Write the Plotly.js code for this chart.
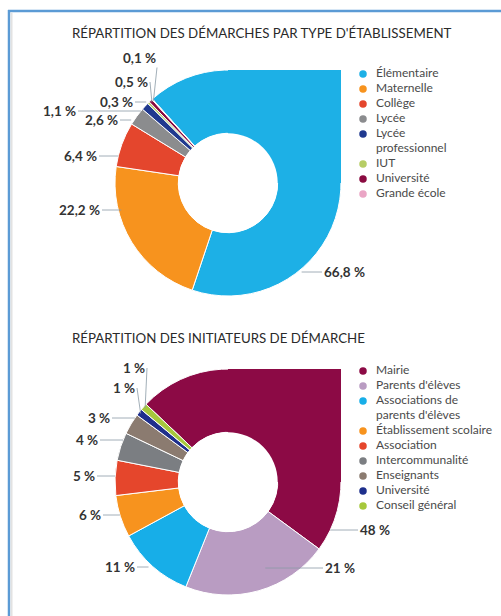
<!DOCTYPE html>
<html><head><meta charset="utf-8">
<script src="https://cdn.plot.ly/plotly-3.0.1.min.js"></script>
<style>html,body{margin:0;padding:0;background:#fff}#chart{width:501px;height:616px}</style>
</head><body><div id="chart"></div>
<script>
// ---------- data ----------
const title1 = "RÉPARTITION DES DÉMARCHES PAR TYPE D'ÉTABLISSEMENT";
const labels1 = ["Élémentaire","Maternelle","Collège","Lycée","Lycée<br>professionnel","IUT","Université","Grande école"];
const values1 = [66.8, 22.2, 6.4, 2.6, 1.1, 0.3, 0.5, 0.1];
const colors1 = ["#1db0e6","#f7931e","#e4462d","#8b8c8e","#20398f","#b6cd65","#8a0b40","#eaa5c5"];

const title2 = "RÉPARTITION DES INITIATEURS DE DÉMARCHE";
const labels2 = ["Mairie","Parents d'élèves","Associations de<br>parents d'élèves","Établissement scolaire","Association","Intercommunalité","Enseignants","Université","Conseil général"];
const values2 = [48, 21, 11, 6, 5, 4, 3, 1, 1];
const colors2 = ["#8c0a45","#b99cc2","#17aee8","#f7931e","#e5462c","#7b7e82","#8b7b70","#1e2f8c","#a6c83c"];

// ---------- layout (pixels) ----------
const W = 501, H = 616;
const pies = [
  {x0:115, x1:341, y0:70,  y1:296, rot:-42,   hole:0.44},
  {x0:115, x1:341, y0:369, y1:595, rot:-46.5, hole:0.44}
];
const legs = [{x:363, top:74, step:15}, {x:363, top:371, step:15}];
const titles = [{x:70, y:33}, {x:70, y:338}];
// value-label placement: side, label y, text edge x, leader mode (h: horizontal to rim, s: to slice), inset
const labelPos1 = [
  {side:"R", y:272, tx:322, mode:"h", inset:-4},
  {side:"L", y:210, tx:102, mode:"h", inset:3},
  {side:"L", y:156, tx:99,  mode:"h", inset:0},
  {side:"L", y:120, tx:120, mode:"h", inset:-3},
  {side:"L", y:111, tx:78,  mode:"h", inset:0},
  {side:"L", y:102, tx:135, mode:"h", inset:-3},
  {side:"L", y:82,  tx:150, mode:"s", inset:2},
  {side:"L", y:58,  tx:158, mode:"s", inset:2}
];
const labelPos2 = [
  {side:"R", y:530, tx:358, mode:"h", inset:0},
  {side:"R", y:568, tx:323, mode:"h", inset:36},
  {side:"L", y:567, tx:137, mode:"h", inset:-5},
  {side:"L", y:515, tx:103, mode:"h", inset:0},
  {side:"L", y:476, tx:97,  mode:"h", inset:0},
  {side:"L", y:440, tx:100, mode:"h", inset:0},
  {side:"L", y:418, tx:112, mode:"h", inset:0},
  {side:"L", y:388, tx:137, mode:"s", inset:2},
  {side:"L", y:368, tx:147, mode:"s", inset:2}
];

const px = v => v / W, py = v => 1 - v / H;
const FONT = "Lato, 'Open Sans', sans-serif";

function lineIdx(labels) {
  const idx = []; let c = 0;
  labels.forEach(l => { idx.push(c); c += l.split("<br>").length; });
  return {idx, total: c};
}

const sets = [
  {title: title1, labels: labels1, values: values1, colors: colors1, pos: labelPos1, dec: 1},
  {title: title2, labels: labels2, values: values2, colors: colors2, pos: labelPos2, dec: 0}
];

const data = [];
const layout = {
  width: W, height: H, margin: {l:0, r:0, t:0, b:0},
  paper_bgcolor: "#fff", plot_bgcolor: "rgba(0,0,0,0)",
  showlegend: false, separators: ", ",
  font: {family: FONT, color: "#444"}
};

sets.forEach((s, k) => {
  const g = pies[k];
  data.push({
    type: "pie", labels: s.labels.map(l => l.replace("<br>", " ")), values: s.values,
    sort: false, direction: "clockwise", rotation: g.rot, hole: g.hole,
    marker: {colors: s.colors, line: {color: "#fff", width: 1}},
    textinfo: "none",
    domain: {x: [px(g.x0), px(g.x1)], y: [py(g.y1), py(g.y0)]},
    hoverinfo: "label+percent", showlegend: false
  });
  const L = legs[k];
  const li = lineIdx(s.labels);
  const xa = k === 0 ? "x" : "x2", ya = k === 0 ? "y" : "y2";
  const xk = k === 0 ? "xaxis" : "xaxis2", yk = k === 0 ? "yaxis" : "yaxis2";
  const top = L.top - L.step / 2, bot = L.top + L.step * (li.total - 0.5);
  layout[xk] = {domain: [px(L.x), px(W - 1)], range: [0, W - 1 - L.x], visible: false, fixedrange: true};
  layout[yk] = {domain: [py(bot), py(top)], range: [li.total - 0.5, -0.5], visible: false, fixedrange: true};
  data.push({
    type: "scatter", mode: "markers", xaxis: xa, yaxis: ya, cliponaxis: false,
    x: s.labels.map(() => 0), y: li.idx,
    marker: {size: 7.5, color: s.colors, symbol: "circle"}, hoverinfo: "skip"
  });
  data.push({
    type: "scatter", mode: "text", xaxis: xa, yaxis: ya, cliponaxis: false,
    x: s.labels.map(() => 13), y: li.idx.map((v, i) => v + (s.labels[i].split("<br>").length - 1) / 2),
    text: s.labels, textposition: "middle right",
    textfont: {family: FONT, size: 12, color: "#4a4a4a"}, hoverinfo: "skip"
  });
});

const gd = document.getElementById("chart");
Plotly.newPlot(gd, data, layout, {displayModeBar: false, staticPlot: true}).then(() => {
  const shapes = [], annotations = [];
  const pieIdx = [0, 3];
  sets.forEach((s, k) => {
    const cd = gd.calcdata[pieIdx[k]];
    const cd0 = cd[0];
    const cx = cd0.cx, cy = cd0.cy, R = cd0.r, r = R * pies[k].hole;
    // square corner of the first slice (top-right quadrant), hole kept white
    shapes.push({type: "rect", xref: "paper", yref: "paper", layer: "above",
      x0: px(cx), x1: px(cx + R), y0: py(cy), y1: py(cy - R),
      fillcolor: s.colors[0], line: {width: 0}});
    shapes.push({type: "circle", xref: "paper", yref: "paper", layer: "above",
      x0: px(cx - r), x1: px(cx + r), y0: py(cy + r), y1: py(cy - r),
      fillcolor: "#fff", line: {width: 0}});
    // value labels with leader lines
    const total = s.values.reduce((a, b) => a + b, 0);
    let acc = 0;
    s.values.forEach((v, i) => {
      const p = s.pos[i];
      const a0 = pies[k].rot + acc / total * 360, a1 = pies[k].rot + (acc + v) / total * 360;
      acc += v;
      let hx, hy;
      if (p.mode === "h") {
        const dy = p.y - cy;
        const dx = Math.sqrt(Math.max(R * R - dy * dy, 0));
        hy = p.y;
        hx = p.side === "L" ? cx - dx + p.inset : cx + dx - p.inset;
      } else {
        const am = (a0 + a1) / 2 * Math.PI / 180, rr = R - p.inset;
        hx = cx + rr * Math.sin(am); hy = cy - rr * Math.cos(am);
      }
      const txt = v.toFixed(s.dec).replace(".", ",") + " %";
      annotations.push({xref: "paper", yref: "paper", x: px(hx), y: py(hy),
        ax: p.tx - hx, ay: p.y - hy, axref: "pixel", ayref: "pixel",
        xanchor: p.side === "L" ? "right" : "left", yanchor: "middle",
        text: txt, showarrow: true, arrowhead: 0, arrowwidth: 0.8, arrowcolor: "#8a9aa6",
        standoff: 0, startstandoff: 0, borderpad: 1,
        font: {family: FONT, size: 13.5, color: "#333", weight: "bold"}});
    });
    annotations.push({xref: "paper", yref: "paper", x: px(titles[k].x), y: py(titles[k].y),
      xanchor: "left", yanchor: "middle", showarrow: false, text: s.title,
      font: {family: FONT, size: 13.3, color: "#2a2a2a"}});
  });
  // frame
  shapes.push({type: "line", xref: "paper", yref: "paper", x0: px(9), x1: px(9), y0: 0, y1: py(10),
    line: {color: "#5b9bd5", width: 2.5}});
  shapes.push({type: "line", xref: "paper", yref: "paper", x0: px(8), x1: 1, y0: py(11), y1: py(11),
    line: {color: "#5b9bd5", width: 2.5}});
  shapes.push({type: "line", xref: "paper", yref: "paper", x0: px(11.5), x1: px(11.5), y0: 0, y1: py(12.5),
    line: {color: "#e2e2e2", width: 2}});
  return Plotly.relayout(gd, {shapes: shapes, annotations: annotations});
});
</script></body></html>
